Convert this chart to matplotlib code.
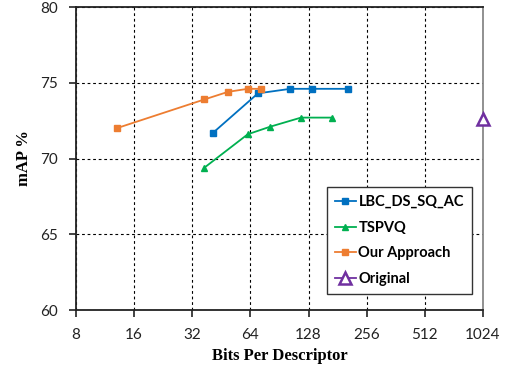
import matplotlib.pyplot as plt
from matplotlib.ticker import FixedLocator, FixedFormatter, NullLocator

# values
lbc_bits = [41, 70, 103, 134, 205]
lbc_map = [71.7, 74.3, 74.6, 74.6, 74.6]

tspvq_bits = [37, 62, 81, 117, 170]
tspvq_map = [69.4, 71.6, 72.1, 72.7, 72.7]

ours_bits = [13, 37, 49, 62, 73]
ours_map = [72.0, 73.9, 74.4, 74.6, 74.6]

orig_bits = [1024]
orig_map = [72.6]

x_ticks = [8, 16, 32, 64, 128, 256, 512, 1024]
y_ticks = [60, 65, 70, 75, 80]

fig = plt.figure(figsize=(5.11, 3.71), dpi=100)
ax = fig.add_axes([0.1487, 0.1644, 0.7965, 0.8167])

ax.plot(lbc_bits, lbc_map, '-s', color='#0070c0', lw=1.3, ms=4.5, label='LBC_DS_SQ_AC')
ax.plot(tspvq_bits, tspvq_map, '-^', color='#00b050', lw=1.3, ms=4.5, label='TSPVQ')
ax.plot(ours_bits, ours_map, '-s', color='#ed7d31', lw=1.3, ms=4.5, label='Our Approach')
ax.plot(orig_bits, orig_map, '-^', color='#7030a0', lw=1.3, ms=8, mfc='white', mew=1.8,
        label='Original', clip_on=False, zorder=5)

ax.set_xscale('log', base=2)
ax.set_xlim(8, 1024)
ax.set_ylim(60, 80)
ax.xaxis.set_major_locator(FixedLocator(x_ticks))
ax.xaxis.set_major_formatter(FixedFormatter([str(t) for t in x_ticks]))
ax.xaxis.set_minor_locator(NullLocator())
ax.set_yticks(y_ticks)

ax.grid(True, linestyle=(0, (2.5, 2.5)), color='black', lw=0.8)
ax.set_axisbelow(True)

for s in ['left', 'bottom', 'top']:
    ax.spines[s].set_color('#222222')
    ax.spines[s].set_linewidth(1.3)
ax.spines['right'].set_color('#888888')
ax.spines['right'].set_linewidth(1.3)

ax.tick_params(direction='out', length=5, width=1.2, color='#222222', pad=8,
               labelsize=11, labelcolor='#222222')
for lab in ax.get_xticklabels() + ax.get_yticklabels():
    lab.set_fontfamily('Lato')

ax.set_xlabel('Bits Per Descriptor', fontfamily='Liberation Serif', fontweight='bold',
              fontsize=12, labelpad=4)
ax.set_ylabel('mAP %', fontfamily='Liberation Serif', fontweight='bold',
              fontsize=12, labelpad=6)

leg = ax.legend(loc='upper left', bbox_to_anchor=(0.617, 0.406), borderaxespad=0,
                handlelength=1.4, handletextpad=0.2, labelspacing=0.8, borderpad=0.55,
                fancybox=False, framealpha=1, edgecolor='#333333',
                prop={'family': 'Lato', 'weight': 'bold', 'size': 10.5})
leg.get_frame().set_linewidth(1.0)

fig.savefig('out.png', dpi=100)
